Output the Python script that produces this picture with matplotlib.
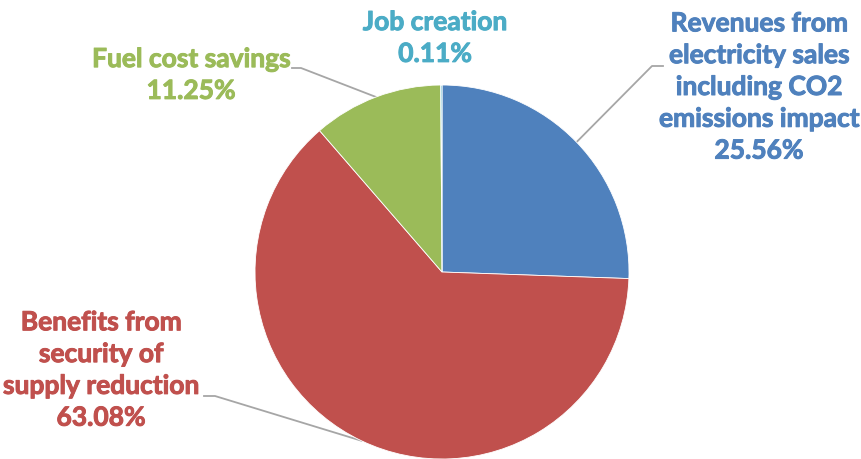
import numpy as np
import matplotlib
matplotlib.use("Agg")
import matplotlib.pyplot as plt
import matplotlib.patheffects as pe

categories = [
    "Revenues from\nelectricity sales\nincluding CO2\nemissions impact",
    "Benefits from\nsecurity of\nsupply reduction",
    "Fuel cost savings",
    "Job creation",
]
shares = [25.56, 63.08, 11.25, 0.11]
colors = ["#4F81BD", "#C0504D", "#9BBB59", "#4BACC6"]

W, H = 861, 459
fig = plt.figure(figsize=(W / 100, H / 100), dpi=100)
ax = fig.add_axes([0, 0, 1, 1])
ax.set_xlim(0, W)
ax.set_ylim(0, H)
ax.set_aspect("equal")
ax.axis("off")

cx, cy, r = 442, H - 272, 187
wedges, _ = ax.pie(shares, colors=colors, startangle=90, counterclock=False,
                   center=(cx, cy), radius=r,
                   wedgeprops=dict(linewidth=0.6, edgecolor="white"))
ax.set_xlim(0, W)
ax.set_ylim(0, H)

font = dict(family=["Lato", "DejaVu Sans"], fontweight="bold",
            fontsize=19, linespacing=1.39)

# label anchor (centre of text block), elbow and end of leader line in pixel space
label_pos = [(759, 87), (101, 370), (191, 75), (435, 38)]
leaders = [
    [(663, 66), (652, 66)],
    [(204, 396), (215, 396)],
    [(292, 68), (301, 68)],
    None,
]

for w, lab, val, col, pos, ld in zip(wedges, categories, shares, colors,
                                     label_pos, leaders):
    ax.text(pos[0], H - pos[1], f"{lab}\n{val:.2f}%", color=col,
            ha="center", va="center",
            path_effects=[pe.withStroke(linewidth=0.7, foreground=col)],
            **font)
    if ld is None:
        continue
    mid = np.deg2rad((w.theta1 + w.theta2) / 2)
    ex, ey = cx + r * np.cos(mid), cy + r * np.sin(mid)
    xs = [ld[0][0], ld[1][0], ex]
    ys = [H - ld[0][1], H - ld[1][1], ey]
    ax.plot(xs, ys, color="#A6A6A6", lw=1.3, zorder=0.5)

fig.savefig("out.png", dpi=100)
